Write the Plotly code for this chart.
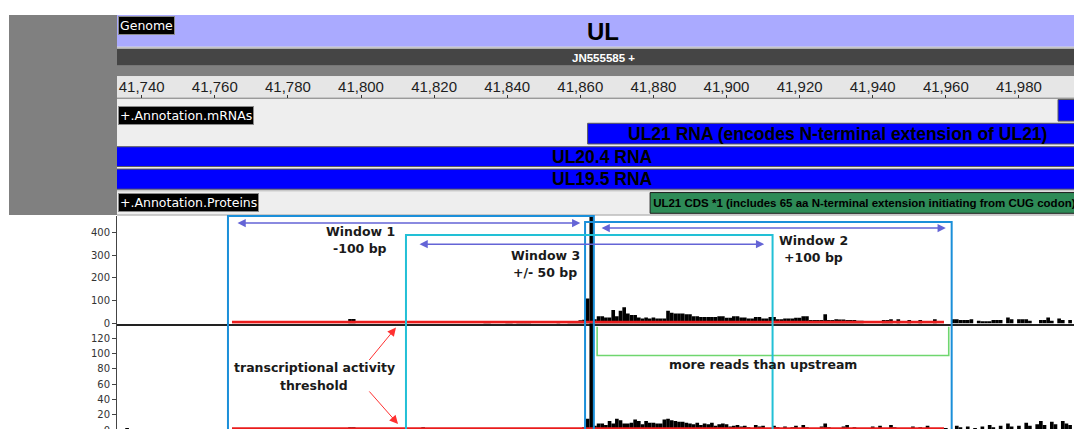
import plotly.graph_objects as go

W, H, L = 1074, 429, 117
H_FIG = 436  # rendered viewport is slightly taller than the photo; paper fractions keep the layout


def py(p):
    """reference pixel row -> paper y"""
    return 1 - p / H


def pxp(p):
    """reference pixel column -> paper x"""
    return (p - L) / (W - L)


# ---------------- data ----------------
view_range = [41733.24, 41995.07]
ruler_tick0, ruler_step = 41740, 20

# upper coverage track (sample 1)
cov1_pos = [41797, 41798, 41834, 41835, 41840, 41841, 41843, 41844, 41845, 41846, 41854, 41857, 41858, 41859,
            41860, 41861, 41862, 41863, 41864, 41865, 41866, 41867, 41868, 41869, 41870, 41871, 41872, 41873,
            41874, 41875, 41876, 41877, 41878, 41879, 41880, 41881, 41882, 41883, 41884, 41885, 41886, 41887,
            41888, 41889, 41890, 41891, 41892, 41893, 41894, 41895, 41896, 41897, 41898, 41899, 41900, 41901,
            41902, 41903, 41904, 41905, 41906, 41907, 41908, 41909, 41910, 41911, 41912, 41913, 41914, 41915,
            41916, 41917, 41918, 41919, 41920, 41921, 41922, 41923, 41924, 41925, 41926, 41927, 41928, 41929,
            41930, 41931, 41932, 41933, 41934, 41935, 41936, 41937, 41943, 41944, 41945, 41947, 41950, 41953,
            41957, 41962, 41963, 41964, 41965, 41966, 41967, 41969, 41970, 41971, 41972, 41973, 41974, 41975,
            41977, 41978, 41980, 41981, 41982, 41983, 41986, 41987, 41988, 41989, 41991, 41992, 41994]
cov1_val = [20, 20, 10, 8, 9, 9, 6, 6, 6, 6, 4, 5, 8, 10,
            14, 16, 110, 1000, 19, 32, 32, 26, 26, 59, 32, 56, 71, 44,
            37, 37, 26, 22, 26, 22, 26, 22, 22, 22, 56, 47, 44, 44,
            44, 40, 40, 32, 32, 29, 29, 29, 29, 29, 32, 32, 25, 25,
            32, 32, 26, 26, 22, 22, 29, 29, 22, 22, 29, 29, 19, 19,
            22, 22, 22, 25, 25, 32, 32, 15, 15, 15, 15, 41, 15, 15,
            19, 18, 18, 15, 15, 15, 12, 12, 15, 15, 19, 19, 15, 15,
            19, 19, 19, 15, 15, 15, 19, 12, 10, 10, 10, 15, 15, 15,
            26, 19, 19, 19, 19, 12, 15, 15, 26, 12, 22, 15, 15]

# lower coverage track (sample 2)
cov2_pos = [41736, 41785, 41786, 41796, 41797, 41798, 41799, 41810, 41817, 41818, 41833, 41834, 41839, 41840,
            41846, 41847, 41857, 41860, 41861, 41862, 41863, 41864, 41865, 41866, 41867, 41868, 41869, 41870,
            41871, 41872, 41873, 41874, 41875, 41876, 41877, 41878, 41879, 41880, 41881, 41882, 41883, 41884,
            41885, 41886, 41887, 41888, 41889, 41890, 41891, 41892, 41893, 41894, 41895, 41896, 41897, 41898,
            41899, 41900, 41901, 41902, 41903, 41904, 41905, 41906, 41908, 41909, 41910, 41912, 41913, 41914,
            41916, 41918, 41919, 41921, 41922, 41924, 41926, 41927, 41928, 41930, 41932, 41933, 41935, 41937,
            41940, 41942, 41943, 41945, 41946, 41948, 41951, 41953, 41955, 41957, 41960, 41963, 41964, 41966,
            41968, 41970, 41972, 41973, 41975, 41977, 41978, 41980, 41982, 41983, 41985, 41986, 41987, 41989,
            41990, 41992, 41993, 41994]
cov2_val = [3, 2, 3, 3, 4, 4, 3, 3, 4, 3, 2, 3, 2, 3,
            2, 2, 2, 3, 4, 15, 500, 6, 9, 9, 7, 12, 9, 15,
            13, 9, 9, 10, 14, 12, 8, 12, 10, 10, 9, 9, 14, 15,
            13, 12, 11, 11, 10, 9, 8, 10, 7, 9, 8, 10, 6, 8,
            9, 8, 5, 6, 7, 5, 6, 4, 7, 5, 6, 3, 6, 4,
            5, 4, 6, 7, 4, 3, 5, 9, 4, 3, 5, 7, 4, 3,
            5, 6, 3, 7, 4, 3, 5, 4, 6, 3, 3, 6, 4, 5,
            3, 5, 7, 4, 6, 9, 5, 6, 10, 6, 8, 12, 7, 11,
            8, 12, 9, 7]

mrna_names = ["", "UL21 RNA (encodes N-terminal extension of UL21)", "UL20.4 RNA", "UL19.5 RNA"]
mrna_start = [41990.7, 41862.0, 41600.0, 41600.0]
mrna_end = [42300.0, 42300.0, 42300.0, 42300.0]
cds_name = "UL21 CDS *1 (includes 65 aa N-terminal extension initiating from CUG codon)"
cds_start, cds_end = 41879.1, 42400.0

window_labels = ["Window 1", "Window 2", "Window 3"]
window_sub = ["-100 bp", "+100 bp", "+/- 50 bp"]
window_start = [41763.6, 41861.3, 41812.3]
window_end = [41863.7, 41961.6, 41912.6]
arrow_start = [41765.8, 41865.4, 41815.6]
arrow_end = [41860.0, 41960.0, 41910.3]

threshold_top, threshold_bottom = 6, 2
threshold_span = [41764.7, 41959.5]
bracket_span = [41864.6, 41960.8]
bracket_levels = [135.0, 97.5]

# ---------------- layout constants ----------------
TOP_RANGE = [0, 473]
BOT_RANGE = [-0.9, 139.3]
TOP_DOM = [py(322), py(214.5)]
BOT_DOM = [0, py(322)]
TRK_DOM = [py(214.5), py(15)]
TRK_RANGE = [214.5, 15]


def vtop(p):
    return (322 - p) * (TOP_RANGE[1] - TOP_RANGE[0]) / 107.5


fig = go.Figure()

fig.add_trace(go.Bar(x=cov1_pos, y=cov1_val, width=1, marker=dict(color="black", line=dict(width=0)),
                     xaxis="x", yaxis="y", hoverinfo="skip"))
fig.add_trace(go.Bar(x=cov2_pos, y=cov2_val, width=1, marker=dict(color="black", line=dict(width=0)),
                     xaxis="x", yaxis="y2", hoverinfo="skip"))

fig.add_trace(go.Scatter(x=threshold_span, y=[threshold_top] * 2, mode="lines",
                         line=dict(color="#ea1c1c", width=3), xaxis="x", yaxis="y", hoverinfo="skip"))
fig.add_trace(go.Scatter(x=threshold_span, y=[threshold_bottom] * 2, mode="lines",
                         line=dict(color="#ea1c1c", width=3), xaxis="x", yaxis="y2", hoverinfo="skip"))

fig.add_trace(go.Scatter(x=[bracket_span[0], bracket_span[0], bracket_span[1], bracket_span[1]],
                         y=[bracket_levels[0], bracket_levels[1], bracket_levels[1], bracket_levels[0]],
                         mode="lines", line=dict(color="#6fd66f", width=1.6), xaxis="x", yaxis="y2",
                         hoverinfo="skip"))

lane_center = [109.8, 133.0, 155.9, 178.3]
lane_height = [21.5, 20.6, 19.7, 20.0]
fig.add_trace(go.Bar(orientation="h", y=lane_center, base=mrna_start,
                     x=[e - s for s, e in zip(mrna_start, mrna_end)], width=lane_height,
                     marker=dict(color="#0000ff", line=dict(color="#5a5a5a", width=1)),
                     xaxis="x", yaxis="y3", hoverinfo="skip"))
fig.add_trace(go.Bar(orientation="h", y=[202.0], base=[cds_start], x=[cds_end - cds_start], width=[20.6],
                     marker=dict(color="#2e8b57", line=dict(color="#1a1a1a", width=1)),
                     text=["<b>" + cds_name + "</b>"], textposition="inside", insidetextanchor="start",
                     constraintext="none", cliponaxis=True,
                     textfont=dict(family="Liberation Sans", size=11.5, color="black"),
                     xaxis="x", yaxis="y3", hoverinfo="skip"))
fig.add_trace(go.Scatter(x=[view_range[0] + 5], y=[60], mode="markers", marker=dict(opacity=0, size=1),
                         xaxis="x2", yaxis="y3", hoverinfo="skip"))

shapes = []


def band(y0, y1, color, x0=L, x1=W):
    shapes.append(dict(type="rect", xref="paper", yref="paper", x0=pxp(x0), x1=pxp(x1), y0=py(y1), y1=py(y0),
                       fillcolor=color, line=dict(width=0), layer="below"))


band(15, 214, "#808080", x0=9, x1=L)
band(15, 46.5, "#aaaaff")
band(46.5, 48.5, "#c4c4c4")
band(48.5, 65.5, "#454545")
band(65.5, 76, "#808080")
band(76, 97, "#e6e6e6")
band(97, 98.5, "#9a9a9a")
band(98.5, 189.5, "#eeeeee")
band(189.5, 190.5, "#9a9a9a")
band(190.5, 213.5, "#eeeeee")
band(213.5, 214.5, "#9a9a9a")

box_tops = [215, 221, 234]
box_cols = ["#1b8fd9", "#1b8fd9", "#22c0d6"]
for s, e, t, c in zip(window_start, window_end, box_tops, box_cols):
    shapes.append(dict(type="rect", xref="x", yref="paper", x0=s, x1=e, y0=-0.05, y1=py(t),
                       line=dict(color=c, width=2), fillcolor="rgba(0,0,0,0)", layer="above"))

annotations = []


def label_box(text, x_px, y_top_px):
    annotations.append(dict(text=text, xref="paper", yref="paper", x=pxp(x_px), y=py(y_top_px),
                            xanchor="left", yanchor="top", showarrow=False,
                            font=dict(family="DejaVu Sans", size=12.5, color="white"),
                            bgcolor="black", bordercolor="#8a8a8a", borderwidth=1, borderpad=1))


label_box("Genome", 118, 16)
label_box("+.Annotation.mRNAs", 118, 105.5)
label_box("+.Annotation.Proteins", 118, 192)


def text_at(text, x_px, y_px, size, color="#1a1a1a", family="DejaVu Sans"):
    annotations.append(dict(text=text, xref="paper", yref="paper", x=pxp(x_px), y=py(y_px),
                            xanchor="center", yanchor="middle", showarrow=False,
                            font=dict(family=family, size=size, color=color)))


text_at("<b>UL</b>", 603, 31.5, 24, "black", "Liberation Sans")
text_at("<b>JN555585 +</b>", 603, 57.5, 11.5, "white", "Liberation Sans")

mrna_label_px = [None, 837, 602, 602]
for name, xp, yc in zip(mrna_names, mrna_label_px, lane_center):
    if name:
        annotations.append(dict(text="<b>" + name + "</b>", xref="paper", yref="y3", x=pxp(xp), y=yc,
                                xanchor="center", yanchor="middle", showarrow=False,
                                font=dict(family="Liberation Sans", size=17.5, color="black")))

win_text_px = [(360, 230.5, 247), (813, 239, 256), (545, 254, 271)]
for lab, sub, (xp, y1, y2) in zip(window_labels, window_sub, win_text_px):
    text_at("<b>" + lab + "</b>", xp, y1, 12.5)
    text_at("<b>" + sub + "</b>", xp, y2, 12.5)

text_at("<b>transcriptional activity</b>", 314, 366, 12.5)
text_at("<b>threshold</b>", 314, 384, 12.5)
text_at("<b>more reads than upstream</b>", 763, 363, 12.5)

arrow_y_px = [222, 227, 243]
for s, e, yp in zip(arrow_start, arrow_end, arrow_y_px):
    annotations.append(dict(x=e, y=vtop(yp), ax=s, ay=vtop(yp), xref="x", yref="y", axref="x", ayref="y",
                            text="", showarrow=True, arrowside="end+start", arrowhead=2, arrowsize=1.1,
                            arrowwidth=1.5, arrowcolor="#6464d6"))

for hx, hy, ax, ay in [(396, 326, -28, 34), (398, 422, -30, -34)]:
    annotations.append(dict(x=pxp(hx), y=py(hy), xref="paper", yref="paper", ax=ax, ay=ay, text="",
                            showarrow=True, arrowhead=2, arrowsize=1.7, arrowwidth=1, arrowcolor="#ff3030"))

fig.update_layout(
    width=W, height=H_FIG, margin=dict(l=L, r=0, t=0, b=0),
    paper_bgcolor="white", plot_bgcolor="white", showlegend=False, barmode="overlay",
    shapes=shapes, annotations=annotations,
    xaxis=dict(domain=[0, 1], range=view_range, anchor="y", showline=True, linecolor="#222222", linewidth=2,
               showticklabels=False, ticks="", showgrid=False, zeroline=False),
    xaxis2=dict(overlaying="x", range=view_range, anchor="free", position=py(97.5), side="top",
                tickmode="linear", tick0=ruler_tick0, dtick=ruler_step, tickformat=",d", ticks="outside",
                ticklen=3, tickwidth=1, tickcolor="#333333", showline=False, showgrid=False, zeroline=False,
                ticklabelstandoff=-3,
                tickfont=dict(family="Liberation Sans", size=15, color="#1e1e1e")),
    yaxis=dict(domain=TOP_DOM, range=TOP_RANGE, anchor="x", tickvals=[0, 100, 200, 300, 400], ticks="outside",
               ticklen=4, tickcolor="#444", showline=True, linecolor="#444", linewidth=1, showgrid=False,
               zeroline=False, tickfont=dict(family="DejaVu Sans", size=10, color="#333")),
    yaxis2=dict(domain=BOT_DOM, range=BOT_RANGE, anchor="x", tickvals=[0, 20, 40, 60, 80, 100, 120],
                ticks="outside", ticklen=4, tickcolor="#444", showline=True, linecolor="#444", linewidth=1,
                showgrid=False, zeroline=False, tickfont=dict(family="DejaVu Sans", size=10, color="#333")),
    yaxis3=dict(domain=TRK_DOM, range=TRK_RANGE, anchor="x", visible=False, showgrid=False, zeroline=False),
)

fig.write_html(
    "out.html",
    config={"displayModeBar": False},
    post_script=("document.documentElement.style.margin='0';document.documentElement.style.padding='0';"
                 "document.documentElement.style.overflow='hidden';"
                 "document.body.style.margin='0';document.body.style.padding='0';"
                 "document.body.style.overflow='hidden';"),
)
